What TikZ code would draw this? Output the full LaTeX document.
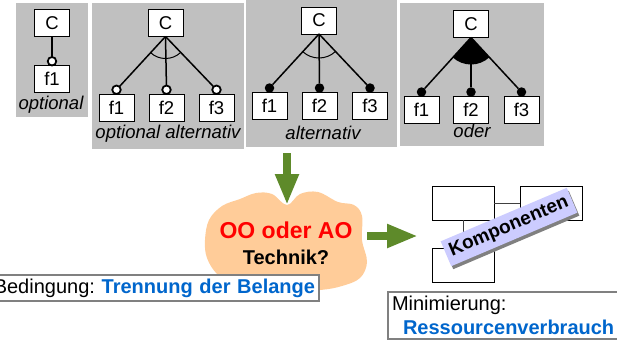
\documentclass[tikz,border=0pt]{standalone}
\usepackage{fontspec}
\setmainfont{Liberation Sans}
\usetikzlibrary{calc,arrows.meta,shadows}
\definecolor{panelgray}{HTML}{C0C0C0}
\definecolor{arrowgreen}{HTML}{5E8A2A}
\definecolor{cloudpeach}{HTML}{FFCC99}
\definecolor{belblue}{HTML}{0066CC}
\definecolor{kompblue}{HTML}{CCCCFF}
\definecolor{framegray}{HTML}{808080}
\begin{document}
\frenchspacing
\begin{tikzpicture}[x=1pt,y=1pt,inner sep=0pt,outer sep=0pt,
panel/.style={fill=panelgray},
feat/.style={draw,fill=white,line width=0.9pt,minimum width=35pt,minimum height=27pt,font=\fontsize{18.5}{20}\selectfont},
odot/.style={circle,draw,fill=white,line width=1.8pt,minimum size=8.5pt},
fdot/.style={circle,fill=black,minimum size=9.5pt},
edge/.style={line width=1.5pt},
kind/.style={font=\fontsize{18.5}{20}\selectfont\itshape},
bigarrow/.style={draw=arrowgreen,line width=8pt,-{Triangle[width=22pt,length=31pt]}},
comp/.style={draw,line width=1pt,minimum width=62pt,minimum height=34pt},
link/.style={draw=black!75,line width=1pt},
infobox/.style={draw=framegray,line width=2pt,fill=white,inner xsep=4pt,inner ysep=4pt}]
\useasboundingbox (0,0) rectangle (617,-341);
% feature panels
\fill[panel] (16,-3) rectangle (88,-117);
\fill[panel] (92,-3) rectangle (244,-149);
\fill[panel] (246,0) rectangle (397,-147);
\fill[panel] (400,-3) rectangle (544,-146);
% optional
\draw (52,-23) node[feat] (C1) {C};
\draw (52,-79) node[feat] (f11) {f1};
\node[odot,anchor=south] (o11) at (f11.north) {};
\draw[edge] (C1.south) -- (o11);
\draw (51,-105) node[kind] (k1) {optional};
% optional alternativ
\draw (165.5,-23) node[feat] (C2) {C};
\draw (116.5,-107.5) node[feat] (f21) {f1};
\draw (166.5,-107.5) node[feat] (f22) {f2};
\draw (216.5,-107.5) node[feat] (f23) {f3};
\node[odot,anchor=south] (o21) at (f21.north) {};
\node[odot,anchor=south] (o22) at (f22.north) {};
\node[odot,anchor=south] (o23) at (f23.north) {};
\draw[edge] (C2.south) -- (o21);
\draw[edge] (C2.south) -- (o22);
\draw[edge] (C2.south) -- (o23);
\draw[line width=1pt] let \p1=($(o21)-(C2.south)$), \p2=($(o23)-(C2.south)$),
  \n1={atan2(\y1,\x1)}, \n2={atan2(\y2,\x2)} in
  ($(C2.south)+(\n1:22)$) arc[start angle=\n1,end angle=\n2,radius=22];
\draw (168,-134) node[kind] (k2) {optional alternativ};
% alternativ
\draw (319,-20.5) node[feat] (C3) {C};
\draw (269.5,-106) node[feat] (f31) {f1};
\draw (319.5,-106) node[feat] (f32) {f2};
\draw (370,-106) node[feat] (f33) {f3};
\node[fdot,anchor=center] (d31) at ([yshift=4.5pt]f31.north) {};
\node[fdot,anchor=center] (d32) at ([yshift=4.5pt]f32.north) {};
\node[fdot,anchor=center] (d33) at ([yshift=4.5pt]f33.north) {};
\draw[edge] (C3.south) -- (d31);
\draw[edge] (C3.south) -- (d32);
\draw[edge] (C3.south) -- (d33);
\draw[line width=1pt] let \p1=($(d31)-(C3.south)$), \p2=($(d33)-(C3.south)$),
  \n1={atan2(\y1,\x1)}, \n2={atan2(\y2,\x2)} in
  ($(C3.south)+(\n1:24)$) arc[start angle=\n1,end angle=\n2,radius=24];
\draw (323,-133) node[kind] (k3) {alternativ};
% oder
\draw (471,-24) node[feat] (C4) {C};
\draw (421.5,-110) node[feat] (f41) {f1};
\draw (471,-110) node[feat] (f42) {f2};
\draw (521.5,-110) node[feat] (f43) {f3};
\node[fdot,anchor=center] (d41) at ([yshift=4.5pt]f41.north) {};
\node[fdot,anchor=center] (d42) at ([yshift=4.5pt]f42.north) {};
\node[fdot,anchor=center] (d43) at ([yshift=4.5pt]f43.north) {};
\draw[edge] (C4.south) -- (d41);
\draw[edge] (C4.south) -- (d42);
\draw[edge] (C4.south) -- (d43);
\fill let \p1=($(d41)-(C4.south)$), \p2=($(d43)-(C4.south)$),
  \n1={atan2(\y1,\x1)}, \n2={atan2(\y2,\x2)} in
  (C4.south) -- ($(C4.south)+(\n1:27)$) arc[start angle=\n1,end angle=\n2,radius=27] -- cycle;
\draw (472,-131) node[kind] (k4) {oder};
% cloud
\fill[cloudpeach] plot[smooth cycle,tension=0.6] coordinates {(205,-240) (209,-220) (222,-206)
  (240,-199) (256,-193) (272,-194) (287,-205) (300,-194) (318,-192) (338,-202) (354,-205)
  (362,-216) (362,-240) (367,-262) (360,-278) (342,-286) (320,-290) (280,-292) (240,-290)
  (218,-275) (207,-258)};
\draw (286,-230) node[font=\fontsize{23}{26}\selectfont\bfseries,text=red] (oo) {OO oder AO};
\draw (286,-257) node[font=\fontsize{20}{24}\selectfont\bfseries] (tech) {Technik?};
\coordinate (a1) at (287,-153);
\coordinate (a2) at (287,-205);
\draw[bigarrow] (a1) -- (a2);
\coordinate (a3) at (367,-236);
\coordinate (a4) at (418,-236);
\draw[bigarrow] (a3) -- (a4);
% components
\draw (463,-203) node[comp] (m1) {};
\draw (551,-203) node[comp] (m2) {};
\draw (463,-265.5) node[comp] (m3) {};
\draw[link] (m1.east) -- (m2.west);
\draw[link] (m1.south) -- (m3.north);
\node[fill=kompblue,rotate=23,minimum width=137pt,minimum height=27pt,
  font=\fontsize{19}{22}\selectfont\bfseries,
  drop shadow={shadow xshift=2pt,shadow yshift=-3pt,fill=black!50,opacity=1}] (komp) at (509,-227) {Komponenten};
% conditions
\node[infobox,anchor=east,text width=332pt,align=right,font=\fontsize{20}{22}\selectfont] (bed) at (319,-288)
  {Bedingung: {\color{belblue}\bfseries Trennung der Belange}};
\node[infobox,anchor=north west,text width=240pt,align=left,font=\fontsize{20}{24}\selectfont] (mini) at (388,-292)
  {Minimierung:\\\hspace*{11pt}{\color{belblue}\bfseries Ressourcenverbrauch}};
\end{tikzpicture}
\end{document}
